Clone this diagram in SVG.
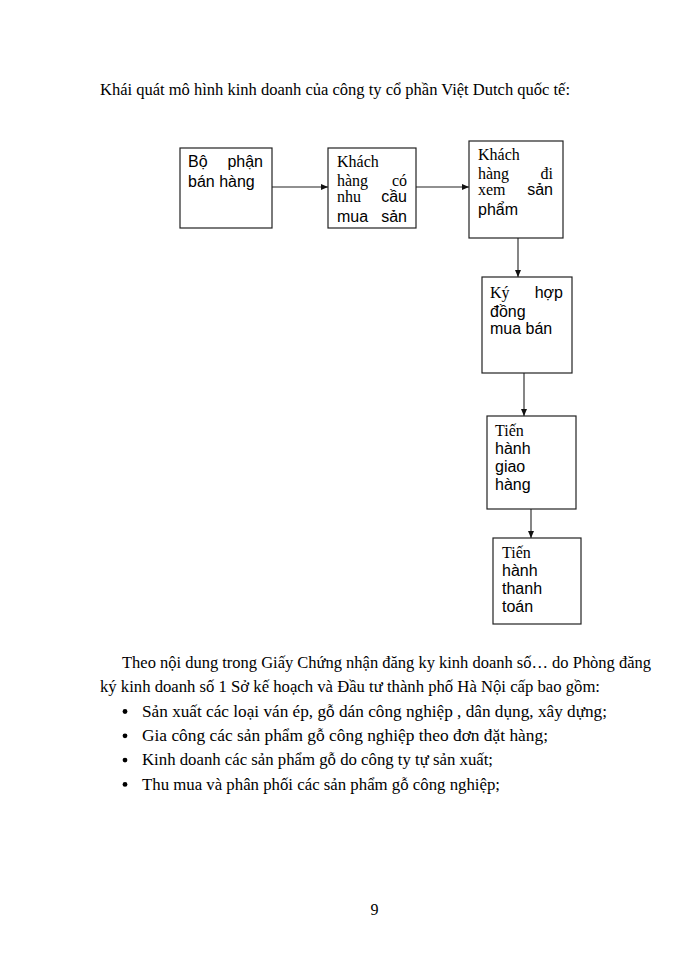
<svg xmlns="http://www.w3.org/2000/svg" width="700" height="960" viewBox="0 0 700 960">
<style>
.box{fill:#fff;stroke:#222;stroke-width:1.2}
.ser{font-family:"Liberation Serif","Times New Roman",serif;font-size:16px;fill:#000}
.san{font-family:"Liberation Sans",Arial,sans-serif;font-size:16px;fill:#000}
.bs{font-family:"Liberation Serif","Times New Roman",serif;font-size:16px;fill:#000}
.e{text-anchor:end}
.conn line{stroke:#222;stroke-width:1.1}
</style>
<defs>
<marker id="ah" markerWidth="7" markerHeight="6" refX="7" refY="3" orient="auto" markerUnits="userSpaceOnUse">
<path d="M0,0 L7,3 L0,6 z" fill="#111"/>
</marker>
</defs>
<rect width="700" height="960" fill="#fff"/>
<text class="bs" x="100" y="95" textLength="470" lengthAdjust="spacingAndGlyphs">Khái quát mô hình kinh doanh của công ty cổ phần Việt Dutch quốc tế:</text>

<g id="conns" class="conn">
<line x1="272" y1="187" x2="328" y2="187" marker-end="url(#ah)"/>
<line x1="416" y1="187" x2="469" y2="187" marker-end="url(#ah)"/>
<line x1="518" y1="238" x2="518" y2="277" marker-end="url(#ah)"/>
<line x1="524" y1="373" x2="524" y2="416" marker-end="url(#ah)"/>
<line x1="531" y1="509" x2="531" y2="538" marker-end="url(#ah)"/>
</g>

<g id="n1">
<rect class="box" x="180" y="148" width="92" height="80"/>
<text class="san" x="188" y="167">Bộ</text>
<text class="san e" x="263" y="167">phận</text>
<text class="san" x="188" y="187">bán hàng</text>
</g>
<g id="n2">
<rect class="box" x="328" y="148" width="88" height="80"/>
<text class="ser" x="337" y="166.5">Khách</text>
<text class="ser" x="337" y="185.5">hàng</text>
<text class="ser e" x="407" y="185.5">có</text>
<text class="ser" x="337" y="202">nhu</text>
<text class="san e" x="407" y="202">cầu</text>
<text class="san" x="337" y="222">mua</text>
<text class="san e" x="407" y="222">sản</text>
</g>
<g id="n3">
<rect class="box" x="469" y="141" width="94" height="97"/>
<text class="ser" x="478" y="160">Khách</text>
<text class="ser" x="478" y="179">hàng</text>
<text class="ser e" x="553" y="179">đi</text>
<text class="ser" x="478" y="195">xem</text>
<text class="san e" x="553" y="195">sản</text>
<text class="san" x="478" y="215">phẩm</text>
</g>
<g id="n4">
<rect class="box" x="482" y="277" width="90" height="96"/>
<text class="ser" x="490" y="297.5">Ký</text>
<text class="san e" x="563" y="297.5">hợp</text>
<text class="san" x="490" y="316.5">đồng</text>
<text class="san" x="490" y="333.5">mua bán</text>
</g>
<g id="n5">
<rect class="box" x="487" y="416" width="89" height="93"/>
<text class="ser" x="495" y="436">Tiến</text>
<text class="san" x="495" y="454">hành</text>
<text class="san" x="495" y="471.5">giao</text>
<text class="san" x="495" y="489.5">hàng</text>
</g>
<g id="n6">
<rect class="box" x="493" y="538" width="88" height="86"/>
<text class="ser" x="502" y="557.5">Tiến</text>
<text class="san" x="502" y="576">hành</text>
<text class="san" x="502" y="594">thanh</text>
<text class="san" x="502" y="612">toán</text>
</g>

<text class="bs" x="122" y="668" textLength="529" lengthAdjust="spacingAndGlyphs">Theo nội dung trong Giấy Chứng nhận đăng ky kinh doanh số… do Phòng đăng</text>
<text class="bs" x="100" y="692.3" textLength="500" lengthAdjust="spacingAndGlyphs">ký kinh doanh số 1 Sở kế hoạch và Đầu tư thành phố Hà Nội cấp bao gồm:</text>
<circle cx="125" cy="711.5" r="2.4" fill="#000"/>
<text class="bs" x="142" y="716.6" textLength="465" lengthAdjust="spacingAndGlyphs">Sản xuất các loại ván ép, gỗ dán công nghiệp , dân dụng, xây dựng;</text>
<circle cx="125" cy="735.8" r="2.4" fill="#000"/>
<text class="bs" x="142" y="740.9" textLength="406" lengthAdjust="spacingAndGlyphs">Gia công các sản phẩm gỗ công nghiệp theo đơn đặt hàng;</text>
<circle cx="125" cy="760.1" r="2.4" fill="#000"/>
<text class="bs" x="142" y="765.2" textLength="351" lengthAdjust="spacingAndGlyphs">Kinh doanh các sản phẩm gỗ do công ty tự sản xuất;</text>
<circle cx="125" cy="784.4" r="2.4" fill="#000"/>
<text class="bs" x="142" y="789.5" textLength="358" lengthAdjust="spacingAndGlyphs">Thu mua và phân phối các sản phẩm gỗ công nghiệp;</text>

<text class="bs" x="374.5" y="915" text-anchor="middle">9</text>
</svg>
